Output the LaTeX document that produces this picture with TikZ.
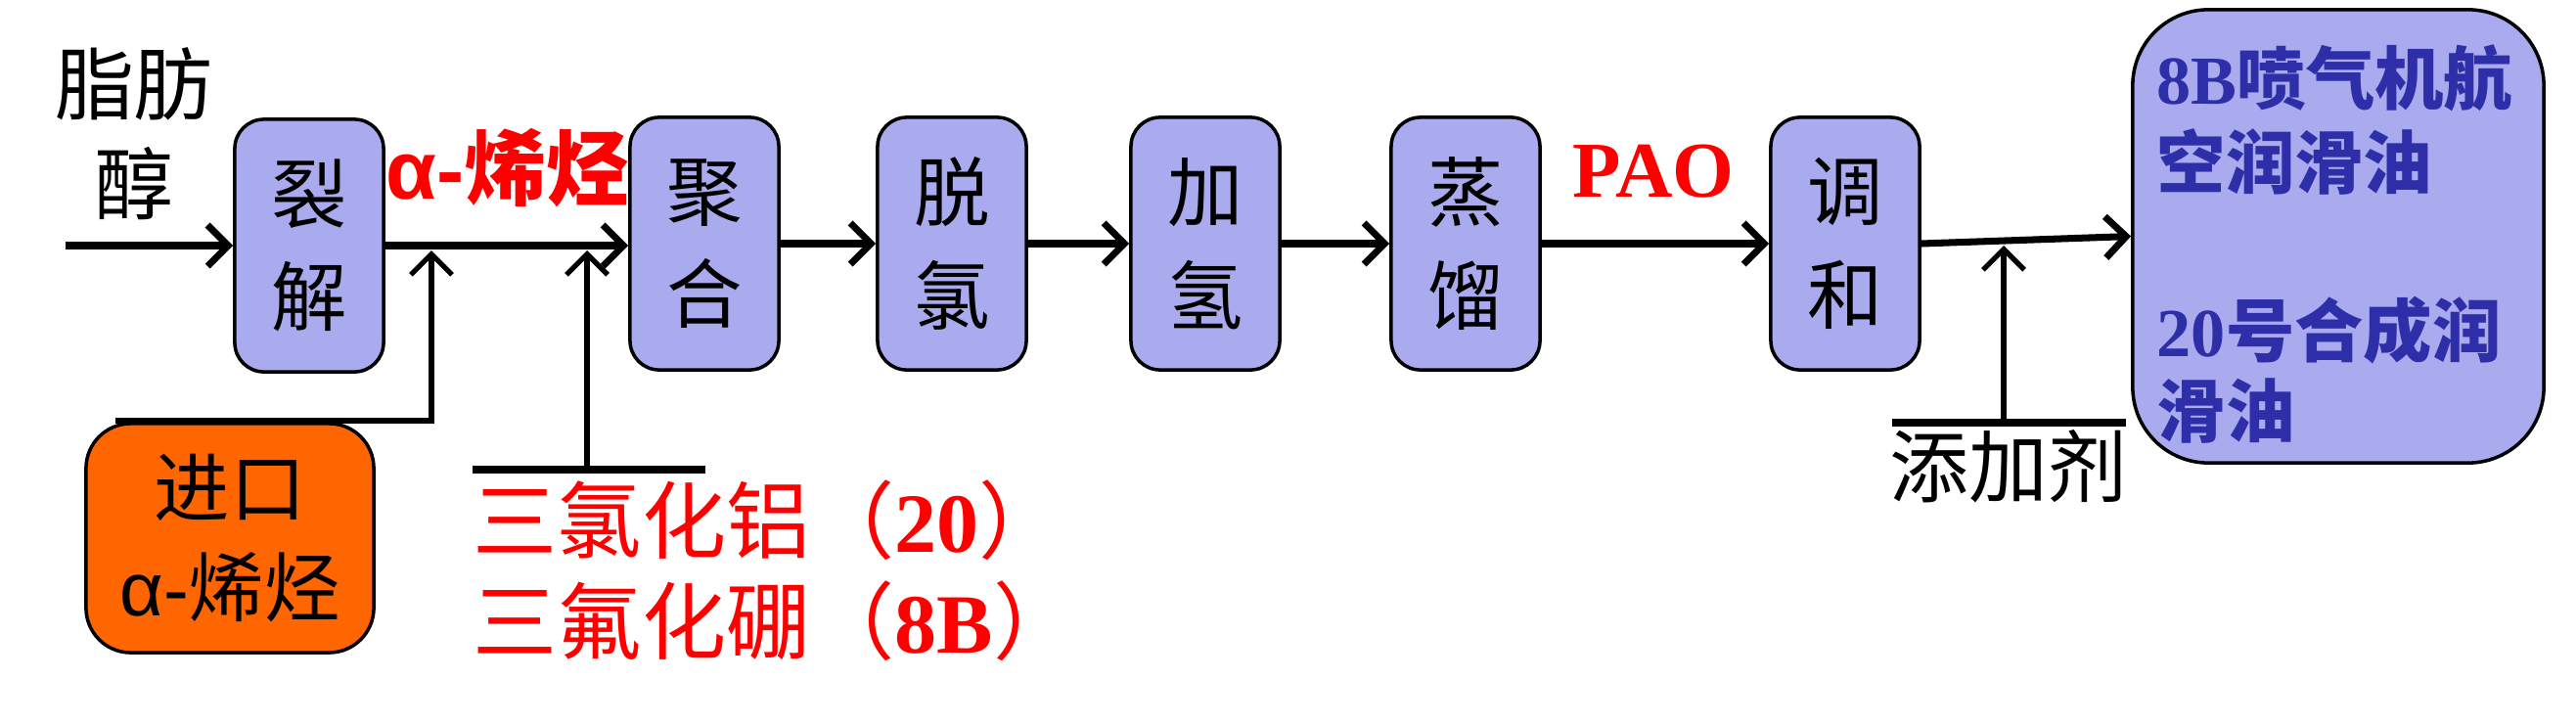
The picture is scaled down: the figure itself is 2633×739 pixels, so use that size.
\documentclass[tikz,border=0pt]{standalone}
\usepackage{fontspec}
\setmainfont{Liberation Serif}
\newfontfamily\cjk{Noto Sans CJK SC}
\newfontfamily\lsans{Liberation Sans}
\usetikzlibrary{arrows.meta}
\definecolor{lav}{HTML}{AAAAEE}
\definecolor{org}{HTML}{FF6600}
\definecolor{dblue}{HTML}{2E2EA8}
\definecolor{pred}{HTML}{FF0000}
\begin{document}
\begin{tikzpicture}[x=0.01cm,y=-0.01cm,
  procbox/.style={draw=black, line width=1pt, fill=lav, rounded corners=8.5pt,
    minimum width=1.52cm, minimum height=2.58cm, inner sep=0pt, align=center,
    font=\cjk\fontsize{22}{30}\selectfont},
  flow/.style={line width=2pt, -{Straight Barb[length=6pt,width=12pt]}},
  feed/.style={line width=1.5pt, -{Straight Barb[length=6pt,width=12pt]}},
  bar/.style={line width=2pt},
  lbl/.style={inner sep=0pt, align=center, font=\cjk\fontsize{23}{29}\selectfont},
  redlbl/.style={inner sep=0pt, text=pred},
  outlbl/.style={inner sep=0pt, anchor=west, text=dblue, font=\fontsize{20}{24}\selectfont}
]
\useasboundingbox (0,0) rectangle (2633,739);

% process boxes
\node[procbox] (A) at (316,251) {裂\\解};
\node[procbox] (B) at (720,249) {聚\\合};
\node[procbox] (C) at (973,249) {脱\\氯};
\node[procbox] (D) at (1232,249) {加\\氢};
\node[procbox] (E) at (1498,249) {蒸\\馏};
\node[procbox] (F) at (1886,249) {调\\和};
\node[draw=black, line width=1pt, fill=lav, rounded corners=22pt,
      minimum width=4.2cm, minimum height=4.63cm, inner sep=0pt] (G) at (2390,241.5) {};
\node[draw=black, line width=1pt, fill=org, rounded corners=13pt,
      minimum width=2.94cm, minimum height=2.34cm, inner sep=0pt, align=center,
      font=\cjk\fontsize{22}{29}\selectfont] (O) at (235,550) {进口\\{\lsans α-}烯烃};

% labels
\node[lbl] (fa) at (137,137) {脂肪\\醇};
\node[redlbl, font=\fontsize{24}{28}\selectfont] (ao) at (519,172) {{\lsans\bfseries α-}{\cjk\bfseries 烯烃}};
\node[redlbl, font=\bfseries\fontsize{23}{28}\selectfont] (pao) at (1690,175) {PAO};
\node[redlbl, anchor=west, font=\fontsize{24.5}{28}\selectfont] (cat1) at (483,532) {{\cjk 三氯化铝（}{\bfseries 20}{\cjk ）}};
\node[redlbl, anchor=west, font=\fontsize{24.5}{28}\selectfont] (cat2) at (483,635) {{\cjk 三氟化硼（}{\bfseries 8B}{\cjk ）}};
\node[lbl] (add) at (2053,477) {添加剂};
\node[outlbl] (g1) at (2204,80) {{\bfseries 8B}{\cjk\bfseries 喷气机航}};
\node[outlbl] (g2) at (2204,165) {{\cjk\bfseries 空润滑油}};
\node[outlbl] (g3) at (2204,338) {{\bfseries 20}{\cjk\bfseries 号合成润}};
\node[outlbl] (g4) at (2204,420) {{\cjk\bfseries 滑油}};

% main flow
\coordinate (in) at (67,251);
\draw[flow] (in) -- (A.west);
\draw[flow] (A.east) -- (A.east -| B.west);
\draw[flow] (B.east) -- (C.west);
\draw[flow] (C.east) -- (D.west);
\draw[flow] (D.east) -- (E.west);
\draw[flow] (E.east) -- (F.west);
\draw[flow] (F.east) -- (G.west);

% imported alpha-olefin feed
\coordinate (o1) at (118,430);
\coordinate (o2) at (441,430);
\coordinate (j1) at (441,256);
\draw[feed] (o1) -- (o2) -- (j1);

% catalyst feed
\coordinate (k1) at (483,480);
\coordinate (k2) at (721,480);
\coordinate (k3) at (600,480);
\coordinate (j2) at (600,256);
\draw[bar] (k1) -- (k2);
\draw[feed] (k3) -- (j2);

% additive feed
\coordinate (a1) at (1934,432);
\coordinate (a2) at (2173,432);
\coordinate (a3) at (2048,432);
\coordinate (j3) at (2048,251);
\draw[bar] (a1) -- (a2);
\draw[feed] (a3) -- (j3);
\end{tikzpicture}
\end{document}
